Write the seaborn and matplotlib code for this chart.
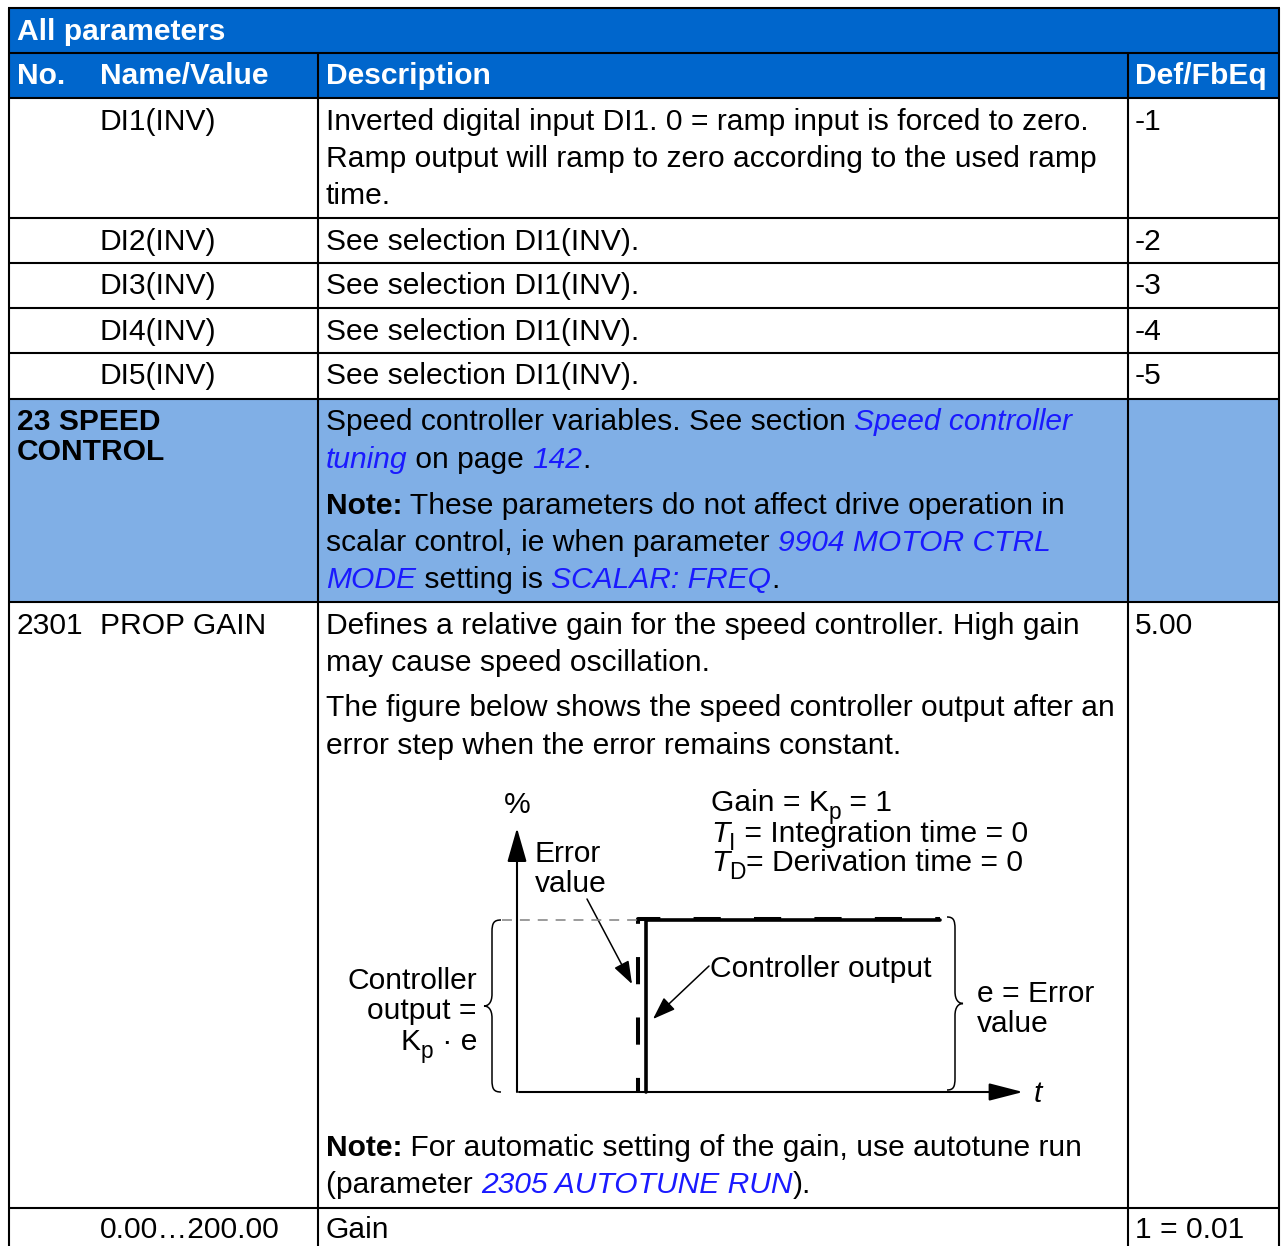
import matplotlib
matplotlib.use("Agg")
import matplotlib.pyplot as plt
import seaborn as sns
from matplotlib.path import Path
from matplotlib.patches import PathPatch, Rectangle

# ---------------- data ----------------
table_title = "All parameters"
column_headers = ["No.", "Name/Value", "Description", "Def/FbEq"]

di_names = ["DI1(INV)", "DI2(INV)", "DI3(INV)", "DI4(INV)", "DI5(INV)"]
di_defaults = ["-1", "-2", "-3", "-4", "-5"]
di1_description = [
    "Inverted digital input DI1. 0 = ramp input is forced to zero.",
    "Ramp output will ramp to zero according to the used ramp",
    "time.",
]
di_other_description = "See selection DI1(INV)."

group_name = ["23 SPEED", "CONTROL"]
group_description = [
    [("Speed controller variables. See section ", "n"), ("Speed controller", "l")],
    [("tuning", "l"), (" on page ", "n"), ("142", "l"), (".", "n")],
    [("Note:", "b"), (" These parameters do not affect drive operation in", "n")],
    [("scalar control, ie when parameter ", "n"), ("9904 MOTOR CTRL", "l")],
    [("MODE", "l"), (" setting is ", "n"), ("SCALAR: FREQ", "l"), (".", "n")],
]

param_number = "2301"
param_name = "PROP GAIN"
param_default = "5.00"
param_description = [
    "Defines a relative gain for the speed controller. High gain",
    "may cause speed oscillation.",
    "The figure below shows the speed controller output after an",
    "error step when the error remains constant.",
]
param_note = [
    [("Note:", "b"), (" For automatic setting of the gain, use autotune run", "n")],
    [("(parameter ", "n"), ("2305 AUTOTUNE RUN", "l"), (").", "n")],
]
range_value = "0.00\u2026200.00"
range_description = "Gain"
range_fbeq = "1 = 0.01"

# diagram (schematic step response, time units / percent)
error_time = [2.4, 2.4, 8.35]
error_pct = [0, 100.6, 100.6]
output_time = [2.55, 2.55, 8.35]
output_pct = [0, 100, 100]
t_max = 10
pct_max = 153.5

# ---------------- style ----------------
sns.set_theme(style="white")
FONT = ["Liberation Sans", "DejaVu Sans"]
plt.rcParams["font.family"] = FONT
DARK_BLUE = "#0066CC"
LIGHT_BLUE = "#80AFE6"
LINK = "#1A1AFF"
FS = 21.6
SUB_FS = 16.4
SUB_DY = 8
W, H = 1288, 1246

fig = plt.figure(figsize=(W / 100, H / 100), dpi=100)
ax = fig.add_axes([0, 0, 1, 1])
ax.set_xlim(0, W)
ax.set_ylim(H, 0)
ax.axis("off")
renderer = fig.canvas.get_renderer()


def props(style):
    p = dict(fontsize=FS, color="black", fontfamily=FONT)
    if style == "b":
        p["fontweight"] = "bold"
    elif style == "l":
        p.update(color=LINK, fontstyle="italic")
    elif style == "i":
        p["fontstyle"] = "italic"
    elif style == "s":
        p["fontsize"] = SUB_FS
    elif style == "w":
        p.update(color="white", fontweight="bold")
    return p


def seg_width(txt, p):
    a = ax.text(0, 0, "|" + txt + "|", **p)
    b = ax.text(0, 0, "||", **p)
    w = a.get_window_extent(renderer).width - b.get_window_extent(renderer).width
    a.remove()
    b.remove()
    return w


def rich(x, y, segs, ha="left"):
    ws = [seg_width(t, props(s)) for t, s in segs]
    if ha == "right":
        x = x - sum(ws)
    for (t, s), w in zip(segs, ws):
        dy = SUB_DY if s == "s" else 0
        ax.text(x, y + dy, t, va="baseline", ha="left", zorder=5, **props(s))
        x += w


def txt(x, y, s, style="n", ha="left"):
    ax.text(x, y, s, va="baseline", ha=ha, zorder=5, **props(style))


# ---------------- table geometry ----------------
X_LEFT, X_RIGHT = 9, 1279.5
X_DIV1, X_DIV2 = 318, 1128.5
X_NO, X_NAME, X_DESC, X_DEF = 17, 100, 326, 1135
Y_TOP, Y_HEAD = 8, 52.5
row_edges = [97.5, 217.5, 262.5, 307.5, 352.5, 398.5, 601.5, 1207.5]
LW = 1.5
LINE = 37.3
OFF = 32

ax.add_patch(Rectangle((X_LEFT, Y_TOP), X_RIGHT - X_LEFT, row_edges[0] - Y_TOP,
                       facecolor=DARK_BLUE, edgecolor="none", zorder=0))
ax.add_patch(Rectangle((X_LEFT, row_edges[5]), X_RIGHT - X_LEFT, row_edges[6] - row_edges[5],
                       facecolor=LIGHT_BLUE, edgecolor="none", zorder=0))

for y in [Y_TOP, Y_HEAD] + row_edges:
    ax.plot([X_LEFT - 1, X_RIGHT + 1], [y, y], color="black", lw=LW, zorder=3,
            solid_capstyle="butt")
for x in [X_LEFT, X_RIGHT]:
    ax.plot([x, x], [Y_TOP, H], color="black", lw=LW, zorder=3)
for x in [X_DIV1, X_DIV2]:
    ax.plot([x, x], [Y_HEAD, H], color="black", lw=LW, zorder=3)

# header
txt(X_NO, 39.5, table_title, "w")
for x, h in zip([X_NO, X_NAME, X_DESC, X_DEF], column_headers):
    txt(x, 84.5, h, "w")

# DI rows
for i, (name, d) in enumerate(zip(di_names, di_defaults)):
    y = row_edges[i] + OFF
    txt(X_NAME, y, name)
    txt(X_DEF, y, d)
    if i == 0:
        for k, line in enumerate(di1_description):
            txt(X_DESC, y + k * LINE, line)
    else:
        txt(X_DESC, y, di_other_description)

# group row
gy = row_edges[5] + OFF
for k, line in enumerate(group_name):
    txt(X_NO, gy + k * 29.5, line, "b")
group_baselines = [gy, gy + LINE, gy + 83, gy + 83 + LINE, gy + 83 + 2 * LINE]
for yb, segs in zip(group_baselines, group_description):
    rich(X_DESC, yb, segs)

# parameter row
py = row_edges[6] + OFF
txt(X_NO, py, param_number)
txt(X_NAME, py, param_name)
txt(X_DEF, py, param_default)
param_baselines = [py, py + LINE, py + 83, py + 83 + LINE]
for yb, line in zip(param_baselines, param_description):
    txt(X_DESC, yb, line)
for k, segs in enumerate(param_note):
    rich(X_DESC, 1155.5 + k * LINE, segs)

# range row
ry = row_edges[7] + 30.5
txt(X_NAME, ry, range_value)
txt(X_DESC, ry, range_description)
txt(X_DEF, ry, range_fbeq)

# ---------------- diagram ----------------
OX, OY = 517, 1092          # origin (pixels)
AX_END, AY_END = 1023, 828  # arrow tips
ax2 = fig.add_axes([OX / W, 1 - OY / H, (AX_END - OX) / W, (OY - AY_END) / H])
ax2.set_xlim(0, t_max)
ax2.set_ylim(0, pct_max)
ax2.axis("off")
ax2.patch.set_alpha(0)

sns.lineplot(x=output_time, y=output_pct, ax=ax2, estimator=None, sort=False,
             color="black", linewidth=2.6, clip_on=False)
sns.lineplot(x=error_time, y=error_pct, ax=ax2, estimator=None, sort=False,
             color="black", linewidth=2.9, clip_on=False,
             linestyle=(3.25, (6.75, 8.25)))
ax2.plot([-0.3, error_time[0]], [output_pct[-1]] * 2, color="#808080", lw=1.1,
         linestyle=(0, (6.5, 5.2)), clip_on=False)

# axes arrows
ax.annotate("", xy=(OX, AY_END), xytext=(OX, OY),
            arrowprops=dict(arrowstyle="-|>,head_length=21,head_width=6",
                            mutation_scale=1, lw=1.5, color="black",
                            shrinkA=0, shrinkB=0), zorder=4)
ax.annotate("", xy=(AX_END, OY), xytext=(OX + 2, OY),
            arrowprops=dict(arrowstyle="-|>,head_length=21,head_width=5.4",
                            mutation_scale=1, lw=1.5, color="black",
                            shrinkA=0, shrinkB=0), zorder=4)
# pointer arrows
ax.annotate("", xy=(632, 984), xytext=(587, 899),
            arrowprops=dict(arrowstyle="-|>,head_length=14,head_width=5",
                            mutation_scale=1, lw=1.1, color="black",
                            shrinkA=0, shrinkB=0), zorder=4)
ax.annotate("", xy=(653, 1019), xytext=(709, 966),
            arrowprops=dict(arrowstyle="-|>,head_length=14,head_width=5",
                            mutation_scale=1, lw=1.1, color="black",
                            shrinkA=0, shrinkB=0), zorder=4)


def brace(x_end, x_mid, x_tip, y0, y1):
    ym = (y0 + y1) / 2
    verts = [(x_end, y0),
             (x_mid + (x_end - x_mid) * 0.2, y0), (x_mid, y0 + 3), (x_mid, y0 + 12),
             (x_mid, ym - 12),
             (x_mid, ym - 3), (x_mid + (x_tip - x_mid) * 0.5, ym), (x_tip, ym),
             (x_mid + (x_tip - x_mid) * 0.5, ym), (x_mid, ym + 3), (x_mid, ym + 12),
             (x_mid, y1 - 12),
             (x_mid, y1 - 3), (x_mid + (x_end - x_mid) * 0.2, y1), (x_end, y1)]
    codes = [Path.MOVETO,
             Path.CURVE4, Path.CURVE4, Path.CURVE4,
             Path.LINETO,
             Path.CURVE4, Path.CURVE4, Path.CURVE4,
             Path.CURVE4, Path.CURVE4, Path.CURVE4,
             Path.LINETO,
             Path.CURVE4, Path.CURVE4, Path.CURVE4]
    ax.add_patch(PathPatch(Path(verts, codes), facecolor="none", edgecolor="black",
                           lw=1.1, zorder=4))


brace(501, 492, 484, 920, 1092)
brace(947, 955, 963, 917, 1090)

# diagram texts
txt(OX, 813, "%", ha="center")
txt(535, 862, "Error")
txt(535, 892, "value")
txt(477, 989, "Controller", ha="right")
txt(477, 1019, "output =", ha="right")
rich(477, 1050, [("K", "n"), ("p", "s"), (" \u00b7 e", "n")], ha="right")
txt(977, 1002, "e = Error")
txt(977, 1032, "value")
txt(1034, 1102, "t", "i")
rich(711, 811, [("Gain = K", "n"), ("p", "s"), (" = 1", "n")])
rich(711, 842, [("T", "i"), ("I", "s"), (" = Integration time = 0", "n")])
rich(711, 871, [("T", "i"), ("D", "s"), ("= Derivation time = 0", "n")])
txt(710, 977, "Controller output")

fig.savefig("out.png", dpi=100)
